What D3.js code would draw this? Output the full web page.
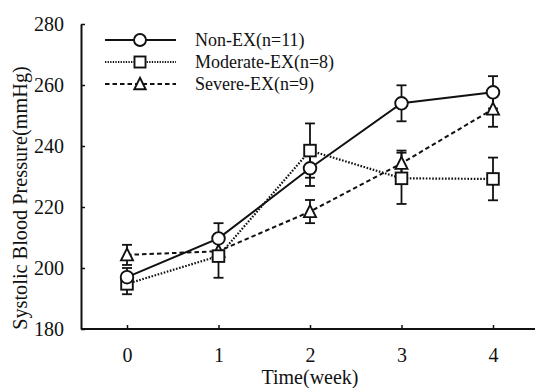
<!DOCTYPE html>
<html>
<head>
<meta charset="utf-8">
<script src="https://cdn.jsdelivr.net/npm/d3@7"></script>
<style>
  html, body { margin: 0; padding: 0; background: #fff; }
  svg { display: block; }
  text { font-family: "Liberation Serif", "Times New Roman", serif; fill: #111; }
</style>
</head>
<body>
<svg id="chart" width="535" height="388"></svg>
<script>
// Systolic blood pressure (mmHg) by week for three exercise groups, mean ± error
const weeks = [0, 1, 2, 3, 4];
const yTicks = [180, 200, 220, 240, 260, 280];

const nonEx      = [197.0, 209.7, 232.7, 254.0, 257.6];
const nonExErr   = [3.0, 5.0, 5.8, 5.9, 5.3];
const moderate   = [194.8, 203.9, 238.5, 229.4, 229.2];
const moderateErr= [3.4, 7.1, 8.9, 8.4, 7.0];
const severe     = [204.3, 205.5, 218.5, 234.3, 252.1];
const severeErr  = [3.3, 3.0, 3.8, 4.2, 5.8];

const seriesNames = ["Non-EX(n=11)", "Moderate-EX(n=8)", "Severe-EX(n=9)"];

const series = [
  { name: seriesNames[0], values: nonEx,    errs: nonExErr,    marker: "circle",   dash: null,      lw: 2 },
  { name: seriesNames[1], values: moderate, errs: moderateErr, marker: "square",   dash: "1.6,1.6", lw: 2.2 },
  { name: seriesNames[2], values: severe,   errs: severeErr,   marker: "triangle", dash: "4.5,3",   lw: 2 }
];

const svg = d3.select("#chart");
const axisX0 = 81, axisY0 = 329, plotTop = 24, plotRight = 535;

const x = d3.scaleLinear().domain([0, 4]).range([127, 493]);
const y = d3.scaleLinear().domain([180, 280]).range([axisY0, plotTop]);

// Left axis: ticks point into the plot
const yAxis = svg.append("g")
  .attr("transform", `translate(${axisX0},0)`)
  .call(d3.axisLeft(y).tickValues(yTicks).tickSizeInner(-4).tickSizeOuter(0).tickPadding(17));
yAxis.select(".domain").attr("stroke", "#111").attr("stroke-width", 2);
yAxis.selectAll(".tick line").attr("stroke", "#111").attr("stroke-width", 1.5);
yAxis.selectAll(".tick text").attr("font-size", 20).attr("dy", "0.3em")
  .style("font-family", "'Liberation Serif', serif").attr("fill", "#111");

// Bottom axis: full-width baseline, ticks pointing up
const xAxis = svg.append("g")
  .attr("transform", `translate(0,${axisY0})`)
  .call(d3.axisBottom(x).tickValues(weeks).tickFormat(d3.format("d"))
    .tickSizeInner(-4).tickSizeOuter(0).tickPadding(19));
xAxis.select(".domain").remove();
xAxis.append("line").attr("x1", axisX0).attr("x2", plotRight).attr("y1", 0).attr("y2", 0)
  .attr("stroke", "#111").attr("stroke-width", 2);
xAxis.selectAll(".tick line").attr("stroke", "#111").attr("stroke-width", 1.5);
xAxis.selectAll(".tick text").attr("font-size", 20)
  .style("font-family", "'Liberation Serif', serif").attr("fill", "#111");

// Axis titles
svg.append("text")
  .attr("x", 310).attr("y", 384)
  .attr("text-anchor", "middle").attr("font-size", 20)
  .text("Time(week)");
svg.append("text")
  .attr("transform", "translate(27,198) rotate(-90)")
  .attr("text-anchor", "middle").attr("font-size", 20.3)
  .text("Systolic Blood Pressure(mmHg)");

// Marker drawing
function drawMarker(g, type, cx, cy, size) {
  const s = size || 1;
  const common = m => m.attr("fill", "#fff").attr("stroke", "#111").attr("stroke-width", 1.9);
  if (type === "circle") {
    common(g.append("circle").attr("cx", cx).attr("cy", cy).attr("r", 6.3 * s));
  } else if (type === "square") {
    const h = 5.8 * s;
    common(g.append("rect").attr("x", cx - h).attr("y", cy - h).attr("width", 2 * h).attr("height", 2 * h));
  } else {
    const w = 6 * s, h = 5.5 * s;
    common(g.append("path").attr("d", `M${cx},${cy - h - 1}L${cx + w},${cy + h}L${cx - w},${cy + h}Z`));
  }
}

const line = d3.line().x((d, i) => x(weeks[i])).y(d => y(d));
const plot = svg.append("g");

// Lines
series.forEach(s => {
  plot.append("path")
    .attr("d", line(s.values))
    .attr("fill", "none").attr("stroke", "#111")
    .attr("stroke-width", s.lw)
    .attr("stroke-dasharray", s.dash);
});

// Error bars
series.forEach(s => {
  s.values.forEach((v, i) => {
    const cx = x(weeks[i]);
    const yTop = y(v + s.errs[i]), yBot = y(v - s.errs[i]);
    const g = plot.append("g").attr("stroke", "#111").attr("stroke-width", 1.8);
    g.append("line").attr("x1", cx).attr("x2", cx).attr("y1", yTop).attr("y2", yBot);
    g.append("line").attr("x1", cx - 5).attr("x2", cx + 5).attr("y1", yTop).attr("y2", yTop);
    g.append("line").attr("x1", cx - 5).attr("x2", cx + 5).attr("y1", yBot).attr("y2", yBot);
  });
});

// Markers (severe first so the others sit on top)
[series[2], series[1], series[0]].forEach(s => {
  s.values.forEach((v, i) => drawMarker(plot, s.marker, x(weeks[i]), y(v)));
});

// Legend
const legend = svg.append("g");
const legendRows = [40, 62, 84];
series.forEach((s, i) => {
  const ly = legendRows[i];
  legend.append("line").attr("x1", 105).attr("x2", 176).attr("y1", ly).attr("y2", ly)
    .attr("stroke", "#111").attr("stroke-width", s.marker === "circle" ? 2 : 1.8)
    .attr("stroke-dasharray", s.marker === "square" ? "1.3,1.3" : s.dash);
  drawMarker(legend, s.marker, 140, ly, 0.95);
  legend.append("text").attr("x", 195).attr("y", ly).attr("dy", "0.33em")
    .attr("font-size", 18).text(s.name);
});
</script>
</body>
</html>
